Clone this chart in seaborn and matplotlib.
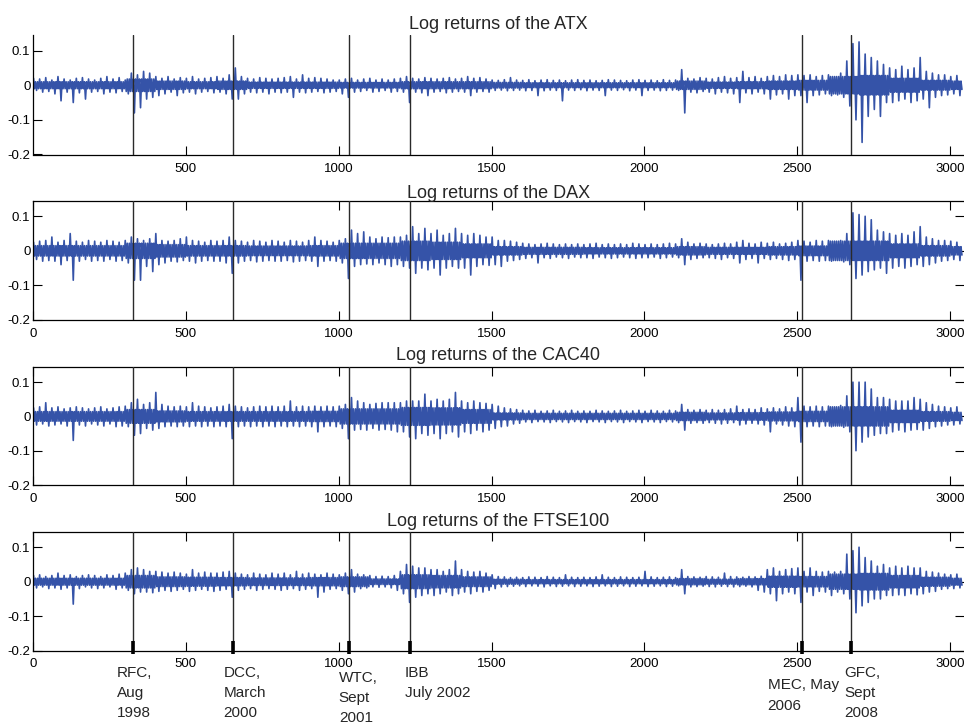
import numpy as np
import pandas as pd
import matplotlib
matplotlib.use("Agg")
import matplotlib.pyplot as plt
from matplotlib import font_manager
import seaborn as sns

sns.set_style("ticks")
_installed = {f.name for f in font_manager.fontManager.ttflist}
NARROW = "Liberation Sans Narrow" in _installed
if NARROW:
    plt.rcParams["font.family"] = ["Liberation Sans Narrow", "DejaVu Sans"]
    FS_TITLE, FS_TICK, FS_EVENT = 16, 10, 12.5
else:
    plt.rcParams["font.family"] = ["Liberation Sans", "DejaVu Sans"]
    FS_TITLE, FS_TICK, FS_EVENT = 13, 9.5, 11

# ---------------- data ----------------
# Each series is summarised per 20-trading-day window: the highest and the
# lowest log return seen in that window (values in thousandths), plus the
# typical amplitude of the noise band per 100-day stretch (thousandths).
WINDOW = 20
SEGMENT = 100
index_names = ["ATX", "DAX", "CAC40", "FTSE100"]

atx_hi = [20,18,22,15,25,18,15,20,22,18, 15,20,25,18,22,15,35,30,40,35,
          25,20,25,18,22,20,25,18,20,22, 25,20,30,50,25,20,18,22,20,18,
          20,22,25,18,30,20,22,20,18,15, 15,18,20,15,18,20,15,18,15,18,
          20,25,20,18,22,20,18,20,22,18, 20,25,20,22,18,15,14,16,22,15,
          14,16,13,15,16,14,15,13,15,16, 14,15,13,14,16,15,14,13,15,16,
          14,15,13,16,14,15,45,20,18,22, 20,18,22,25,20,22,40,22,25,20,
          25,28,25,30,28,30,28,30,25,28, 30,25,35,70,120,125,90,80,70,60,
          50,45,55,45,50,80,40,35,30,30, 25,28]
atx_lo = [-15,-20,-18,-25,-45,-20,-50,-22,-40,-20, -18,-25,-20,-22,-18,-25,-80,-65,-40,-35,
          -30,-25,-20,-30,-22,-20,-25,-20,-18,-22, -20,-25,-40,-40,-25,-20,-22,-20,-25,-20,
          -22,-20,-35,-20,-22,-20,-18,-22,-20,-18, -25,-35,-20,-18,-15,-20,-18,-15,-20,-18,
          -20,-50,-20,-22,-30,-20,-18,-22,-20,-18, -20,-30,-20,-18,-20,-15,-14,-16,-15,-14,
          -16,-15,-30,-16,-14,-15,-45,-14,-15,-13, -16,-14,-15,-30,-14,-15,-13,-16,-14,-30,
          -15,-14,-16,-15,-14,-15,-80,-20,-22,-18, -20,-25,-20,-22,-25,-50,-22,-25,-20,-25,
          -40,-28,-25,-40,-30,-30,-50,-30,-28,-25, -30,-28,-35,-60,-100,-165,-90,-70,-90,-50,
          -50,-45,-40,-50,-45,-40,-65,-35,-30,-28, -25,-30]
atx_typ = [10,10,10,18,12,10,12,9,9,9, 8,8,10,10,10,8,7,7,7,7,
           7,12,9,10,12,14,25,28,20,14, 12]

dax_hi = [25,28,30,40,25,30,50,28,25,30, 28,25,30,28,25,30,40,35,30,35,
          50,30,28,30,35,40,30,28,25,30, 28,30,40,30,28,25,30,28,25,30,
          28,25,30,28,25,30,40,30,28,25, 30,35,60,50,55,40,35,40,38,40,
          40,45,70,50,65,50,60,45,50,65, 50,45,50,45,40,40,30,30,28,25,
          22,20,18,20,22,20,18,20,18,20, 18,20,22,18,20,18,20,18,22,20,
          18,20,18,20,22,20,35,25,20,22, 20,18,20,22,20,25,30,22,20,25,
          22,25,20,22,25,30,28,25,30,28, 30,28,30,50,110,105,100,90,60,55,
          50,45,50,45,55,70,40,35,30,30, 28,25]
dax_lo = [-25,-30,-28,-30,-40,-28,-85,-30,-25,-30, -28,-30,-25,-30,-28,-35,-85,-85,-45,-60,
          -40,-35,-30,-32,-28,-30,-35,-30,-28,-30, -30,-35,-65,-35,-30,-28,-32,-30,-28,-30,
          -30,-28,-32,-30,-28,-30,-45,-30,-28,-30, -35,-80,-45,-40,-38,-40,-35,-40,-45,-40,
          -45,-50,-65,-50,-55,-50,-70,-50,-45,-50, -50,-70,-45,-40,-42,-40,-45,-30,-28,-25,
          -22,-20,-35,-20,-22,-18,-20,-22,-18,-20, -20,-22,-18,-20,-22,-20,-18,-20,-22,-20,
          -20,-18,-22,-20,-18,-20,-40,-25,-22,-20, -20,-22,-25,-20,-22,-35,-25,-22,-35,-22,
          -25,-22,-25,-28,-25,-85,-30,-28,-30,-28, -30,-28,-32,-40,-80,-70,-60,-55,-50,-65,
          -50,-45,-50,-45,-40,-45,-40,-35,-30,-28, -25,-28]
dax_typ = [15,15,15,22,18,15,15,14,14,15, 22,22,28,25,20,12,10,10,9,9,
           9,12,10,10,12,14,28,28,20,15, 12]

cac_hi = [25,28,40,25,28,22,25,28,25,22, 25,28,22,25,28,30,40,50,35,40,
          70,35,30,28,30,28,40,30,28,25, 28,30,35,30,28,25,28,30,28,30,
          28,30,45,28,30,28,30,28,30,28, 30,35,55,45,40,35,38,40,40,40,
          40,45,45,45,65,45,50,45,50,70, 45,40,45,40,38,35,30,25,22,20,
          18,16,18,15,16,18,15,16,18,15, 16,15,18,16,15,16,18,15,16,18,
          15,18,16,15,18,16,35,20,18,20, 18,20,18,20,22,30,20,22,20,25,
          22,25,22,28,25,55,30,28,30,28, 30,28,32,60,100,100,100,80,55,55,
          50,45,45,45,55,50,40,35,30,28, 25,28]
cac_lo = [-25,-22,-28,-25,-22,-28,-70,-25,-28,-22, -25,-28,-22,-30,-28,-30,-55,-50,-35,-40,
          -35,-30,-28,-30,-28,-30,-28,-30,-28,-30, -28,-30,-65,-30,-28,-30,-28,-30,-28,-30,
          -28,-30,-28,-30,-28,-30,-45,-30,-28,-30, -35,-65,-40,-38,-40,-35,-40,-38,-40,-45,
          -45,-60,-65,-50,-55,-50,-65,-50,-45,-60, -45,-50,-40,-45,-40,-35,-30,-28,-22,-20,
          -16,-18,-15,-16,-18,-15,-16,-18,-15,-16, -18,-15,-16,-18,-15,-16,-18,-15,-16,-18,
          -15,-16,-18,-15,-16,-18,-40,-20,-18,-20, -18,-20,-22,-20,-18,-25,-22,-20,-22,-25,
          -45,-22,-25,-28,-30,-75,-30,-28,-30,-28, -30,-28,-32,-45,-100,-75,-60,-55,-50,-50,
          -45,-40,-45,-40,-38,-40,-35,-30,-28,-25, -25,-22]
cac_typ = [14,14,14,20,16,14,14,14,14,15, 22,22,26,25,20,10,9,9,9,9,
           9,12,10,11,13,15,28,28,18,14, 12]

ftse_hi = [18,20,15,18,25,18,20,15,18,20, 18,15,20,18,22,25,35,40,35,30,
           30,28,25,28,25,22,35,25,28,25, 25,28,30,25,22,20,25,22,20,25,
           22,25,20,30,22,25,22,20,25,22, 20,25,35,22,20,18,15,16,15,18,
           30,50,45,40,40,35,35,30,35,60, 35,30,28,30,25,20,15,14,12,13,
           12,14,13,12,15,13,12,20,13,12, 13,12,14,20,13,12,14,13,12,13,
           30,14,12,13,14,12,35,15,14,13, 15,14,13,25,15,14,13,15,14,16,
           35,40,30,35,38,40,30,40,30,28, 30,28,30,80,90,100,70,60,45,50,
           40,45,40,45,40,40,30,28,25,22, 20,22]
ftse_lo = [-18,-15,-20,-18,-22,-18,-65,-20,-15,-18, -20,-18,-15,-22,-18,-25,-35,-30,-30,-32,
           -28,-25,-28,-25,-22,-28,-25,-22,-25,-28, -25,-22,-45,-25,-22,-20,-25,-22,-20,-22,
           -25,-22,-20,-25,-22,-20,-45,-30,-22,-20, -25,-35,-30,-20,-18,-15,-16,-15,-18,-25,
           -35,-60,-45,-40,-35,-40,-35,-30,-40,-35, -30,-35,-28,-30,-25,-20,-15,-14,-13,-12,
           -14,-12,-13,-15,-12,-14,-13,-12,-14,-13, -12,-14,-13,-12,-14,-13,-12,-14,-13,-12,
           -14,-13,-12,-14,-13,-12,-35,-15,-14,-13, -14,-15,-13,-14,-15,-14,-13,-15,-25,-30,
           -35,-55,-35,-30,-35,-60,-30,-40,-28,-30, -40,-30,-35,-50,-90,-70,-60,-50,-50,-40,
           -40,-38,-40,-35,-38,-35,-30,-28,-22,-20, -20,-18]
ftse_typ = [10,10,10,18,14,13,12,11,11,12, 14,8,20,18,14,7,6,6,6,6,
            6,9,7,9,16,15,22,24,18,13, 10]

series_hi = [atx_hi, dax_hi, cac_hi, ftse_hi]
series_lo = [atx_lo, dax_lo, cac_lo, ftse_lo]
series_typ = [atx_typ, dax_typ, cac_typ, ftse_typ]

event_days = [327, 653, 1033, 1232, 2516, 2676]
event_labels = ["RFC,\nAug\n1998", "DCC,\nMarch\n2000", "WTC,\nSept\n2001",
                "IBB\nJuly 2002", "MEC, May\n2006", "GFC,\nSept\n2008"]
yticks = [-0.2, -0.1, 0, 0.1]
ytick_labels = ["-0.2", "-0.1", "0", "0.1"]
xticks = [0, 500, 1000, 1500, 2000, 2500, 3000]

# ---------------- layout ----------------
W, H = 964, 728
panel_px = [(35, 154.5), (200.7, 320), (366.7, 485), (531.7, 650.7)]
title_pads = [4.0, 1.6, 4.5, 4.3]
label_offsets_pt = [(-11.5, -10.8), (-6.5, -10.8), (-7.2, -14.3), (-3.6, -10.8), (-25, -20), (-5, -10.8)]
line_color = "#3553a8"

fig = plt.figure(figsize=(W / 100, H / 100), dpi=100)
left = 33 / W
width = (W - 33) / W

for i, name in enumerate(index_names):
    hi, lo, typ = series_hi[i], series_lo[i], series_typ[i]
    assert len(hi) == len(lo) == 152, (name, len(hi), len(lo))
    days, rets = [], []
    for k in range(len(hi)):
        t = typ[(k * WINDOW) // SEGMENT] / 1000.0
        base = k * WINDOW
        # order in which the window's readings are traced by the line
        days += [base + 1.7, base + 5.0, base + 8.3, base + 11.7, base + 15.0, base + 18.3]
        rets += [hi[k] / 1000.0, -t, t, lo[k] / 1000.0, t, -t]
    df = pd.DataFrame({"day": days, "ret": rets})

    top, bot = panel_px[i]
    ax = fig.add_axes([left, 1 - bot / H, width, (bot - top) / H])
    sns.lineplot(data=df, x="day", y="ret", ax=ax, color=line_color,
                 linewidth=1.2, estimator=None, sort=False)
    for d in event_days:
        ax.axvline(d, color="#2a2a2a", linewidth=1.0, zorder=3)

    ax.set_xlim(0, 3045)
    ax.set_ylim(-0.2, 0.145)
    ax.set_xlabel("")
    ax.set_ylabel("")
    ax.set_yticks(yticks)
    ax.set_yticklabels(ytick_labels)
    if i == 0:
        ax.set_xticks(xticks[1:])
        ax.spines["top"].set_visible(False)
        ax.tick_params(axis="x", top=False)
        ax.tick_params(axis="y", right=False)
    else:
        ax.set_xticks(xticks)
        ax.tick_params(axis="x", top=True)
        ax.tick_params(axis="y", right=True)
    ax.spines["right"].set_visible(False)
    for s in ["left", "bottom", "top"]:
        ax.spines[s].set_linewidth(0.9)
        ax.spines[s].set_color("black")
    ax.tick_params(axis="both", direction="in", length=6.5, width=0.8,
                   labelsize=FS_TICK, colors="black")
    ax.tick_params(axis="y", pad=1.8)
    ax.tick_params(axis="x", pad=5.0 if i == 3 else 6.0)
    ax.set_title(f"Log returns of the {name}", fontsize=FS_TITLE, pad=title_pads[i])

    if i == 3:
        trans = ax.get_xaxis_transform()
        ax.vlines(event_days, -0.028, 0.082, transform=trans, colors="black",
                  linewidth=2.6, clip_on=False, zorder=5)
        for d, lab, off in zip(event_days, event_labels, label_offsets_pt):
            ax.annotate(lab, xy=(d, 0), xycoords=trans, xytext=off,
                        textcoords="offset points", ha="left", va="top",
                        fontsize=FS_EVENT, linespacing=1.55, annotation_clip=False)

fig.savefig("out.png", dpi=100)
